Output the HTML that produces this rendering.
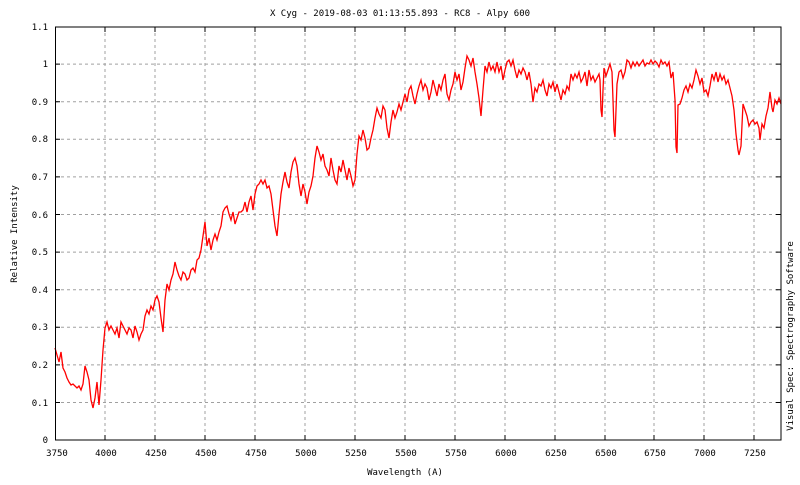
<!DOCTYPE html>
<html><head><style>body{margin:0;background:#fff}svg text{font-family:"DejaVu Sans Mono","Liberation Mono",monospace;font-size:9px;fill:#000}</style></head><body>
<svg width="800" height="480" viewBox="0 0 800 480" xmlns="http://www.w3.org/2000/svg">
<rect width="800" height="480" fill="#fff"/>
<g stroke="#a0a0a0" stroke-dasharray="3,3" stroke-width="1">
<line x1="105" y1="27" x2="105" y2="440"/><line x1="155" y1="27" x2="155" y2="440"/><line x1="205" y1="27" x2="205" y2="440"/><line x1="255" y1="27" x2="255" y2="440"/><line x1="305" y1="27" x2="305" y2="440"/><line x1="355" y1="27" x2="355" y2="440"/><line x1="405" y1="27" x2="405" y2="440"/><line x1="455" y1="27" x2="455" y2="440"/><line x1="505" y1="27" x2="505" y2="440"/><line x1="555" y1="27" x2="555" y2="440"/><line x1="605" y1="27" x2="605" y2="440"/><line x1="654" y1="27" x2="654" y2="440"/><line x1="704" y1="27" x2="704" y2="440"/><line x1="754" y1="27" x2="754" y2="440"/>
<line x1="55" y1="402.5" x2="781" y2="402.5"/><line x1="55" y1="364.9" x2="781" y2="364.9"/><line x1="55" y1="327.3" x2="781" y2="327.3"/><line x1="55" y1="289.7" x2="781" y2="289.7"/><line x1="55" y1="252.1" x2="781" y2="252.1"/><line x1="55" y1="214.5" x2="781" y2="214.5"/><line x1="55" y1="176.9" x2="781" y2="176.9"/><line x1="55" y1="139.3" x2="781" y2="139.3"/><line x1="55" y1="101.7" x2="781" y2="101.7"/><line x1="55" y1="64.1" x2="781" y2="64.1"/>
</g>
<g stroke="#000" stroke-width="1">
<path d="M105,440v-5M155,440v-5M205,440v-5M255,440v-5M305,440v-5M355,440v-5M405,440v-5M455,440v-5M505,440v-5M555,440v-5M605,440v-5M654,440v-5M704,440v-5M754,440v-5M105,27v5M155,27v5M205,27v5M255,27v5M305,27v5M355,27v5M405,27v5M455,27v5M505,27v5M555,27v5M605,27v5M654,27v5M704,27v5M754,27v5"/>
<path d="M55,402.5h5M55,364.9h5M55,327.3h5M55,289.7h5M55,252.1h5M55,214.5h5M55,176.9h5M55,139.3h5M55,101.7h5M55,64.1h5M781,402.5h-5M781,364.9h-5M781,327.3h-5M781,289.7h-5M781,252.1h-5M781,214.5h-5M781,176.9h-5M781,139.3h-5M781,101.7h-5M781,64.1h-5"/>
</g>
<polyline fill="none" stroke="#ff0000" stroke-width="1.3" points="55,348 57,355 59,362 61,352 63,368 65,372 67,378 69,382 71,385 73,384 75,386 77,388 79,386 81,390 83,384 85,366 87,372 89,380 91,400 93,408 95,398 97,382 99,405 101,380 103,350 105,328 107,322 109,330 111,326 113,330 115,334 117,328 119,338 121,322 123,326 125,330 127,334 129,328 131,330 133,338 135,326 137,332 139,340 141,334 143,330 145,316 147,310 149,314 151,306 153,310 155,300 157,296 159,302 161,318 163,332 165,300 167,284 169,290 171,280 173,274 175,262 177,270 179,276 181,280 183,272 185,274 187,280 189,278 191,270 193,268 195,272 197,260 199,258 201,250 203,236 205,222 207,246 209,238 211,250 213,240 215,234 217,240 219,232 221,226 223,212 225,208 227,206 229,214 231,220 233,212 235,224 237,218 239,212 241,212 243,210 245,202 247,212 249,202 251,196 253,210 255,194 257,186 259,184 261,180 263,184 265,180 267,188 269,186 271,194 273,210 275,226 277,236 279,214 281,194 283,182 285,172 287,182 289,188 291,172 293,162 295,158 297,166 299,184 301,196 303,184 305,192 307,204 309,192 311,186 313,176 315,158 317,146 319,152 321,160 323,154 325,166 327,170 329,176 331,158 333,170 335,180 337,184 339,166 341,172 343,160 345,170 347,180 349,168 351,176 353,186 355,180 357,154 359,136 361,140 363,130 365,138 367,150 369,148 371,138 373,130 375,118 377,108 379,114 381,118 383,106 385,110 387,128 389,138 391,122 393,110 395,118 397,112 399,104 401,110 403,102 405,94 407,102 409,90 411,86 413,96 415,104 417,94 419,86 421,80 423,90 425,84 427,88 429,100 431,92 433,80 435,88 437,96 439,84 441,90 443,80 445,74 447,94 449,100 451,90 453,84 455,72 457,80 459,74 461,90 463,82 465,68 467,56 469,60 471,66 473,58 475,72 477,84 479,98 481,116 483,90 485,66 487,72 489,62 491,70 493,66 495,72 497,62 499,72 501,66 503,80 505,70 507,62 509,60 511,66 513,60 515,70 517,78 519,70 521,74 523,68 525,72 527,80 529,72 531,84 533,102 535,88 537,92 539,84 541,86 543,80 545,90 547,96 549,84 551,88 553,82 555,92 557,84 559,92 561,100 563,90 565,94 567,86 569,90 571,74 573,80 575,74 577,78 579,72 581,82 583,78 585,72 587,86 589,70 591,80 593,76 595,82 597,78 599,74 600,80 601,110 602,117 603,90 604,68 606,76 608,70 610,64 612,72 613,100 614,130 615,137 616,110 617,84 619,72 621,70 623,78 625,72 627,60 629,62 631,68 633,62 635,66 637,62 639,66 641,63 643,60 645,66 647,63 649,64 651,60 653,64 655,61 657,63 659,67 661,60 663,64 665,62 667,66 669,62 671,78 673,72 675,100 676,147 677,153 678,105 680,104 682,98 684,90 686,86 688,92 690,84 692,88 694,80 696,70 698,76 700,84 702,78 704,92 706,90 708,96 710,86 712,74 714,80 716,72 718,82 720,74 722,80 724,76 726,84 728,80 730,88 732,96 734,110 736,134 738,150 739,155 741,146 743,104 745,110 747,116 749,126 751,122 753,120 755,124 757,122 759,128 760,140 762,124 764,128 766,116 768,108 770,92 772,108 773,112 775,100 777,104 779,98 781,104"/>
<rect x="55.5" y="27" width="725.5" height="413" fill="none" stroke="#000" stroke-width="1"/>
<g text-anchor="end"><text x="48" y="443">0</text><text x="48" y="406">0.1</text><text x="48" y="368">0.2</text><text x="48" y="330">0.3</text><text x="48" y="293">0.4</text><text x="48" y="255">0.5</text><text x="48" y="218">0.6</text><text x="48" y="180">0.7</text><text x="48" y="142">0.8</text><text x="48" y="105">0.9</text><text x="48" y="67">1</text><text x="48" y="30">1.1</text></g>
<g text-anchor="middle"><text x="57" y="456">3750</text><text x="106" y="456">4000</text><text x="156" y="456">4250</text><text x="206" y="456">4500</text><text x="256" y="456">4750</text><text x="306" y="456">5000</text><text x="356" y="456">5250</text><text x="406" y="456">5500</text><text x="456" y="456">5750</text><text x="506" y="456">6000</text><text x="556" y="456">6250</text><text x="606" y="456">6500</text><text x="655" y="456">6750</text><text x="705" y="456">7000</text><text x="755" y="456">7250</text>
<text x="405" y="475">Wavelength (A)</text><text x="400" y="16">X Cyg - 2019-08-03 01:13:55.893 - RC8 - Alpy 600</text>
<text transform="translate(17,234) rotate(-90)">Relative Intensity</text>
<text transform="translate(793,336) rotate(-90)">Visual Spec: Spectrography Software</text></g>
</svg>
</body></html>
